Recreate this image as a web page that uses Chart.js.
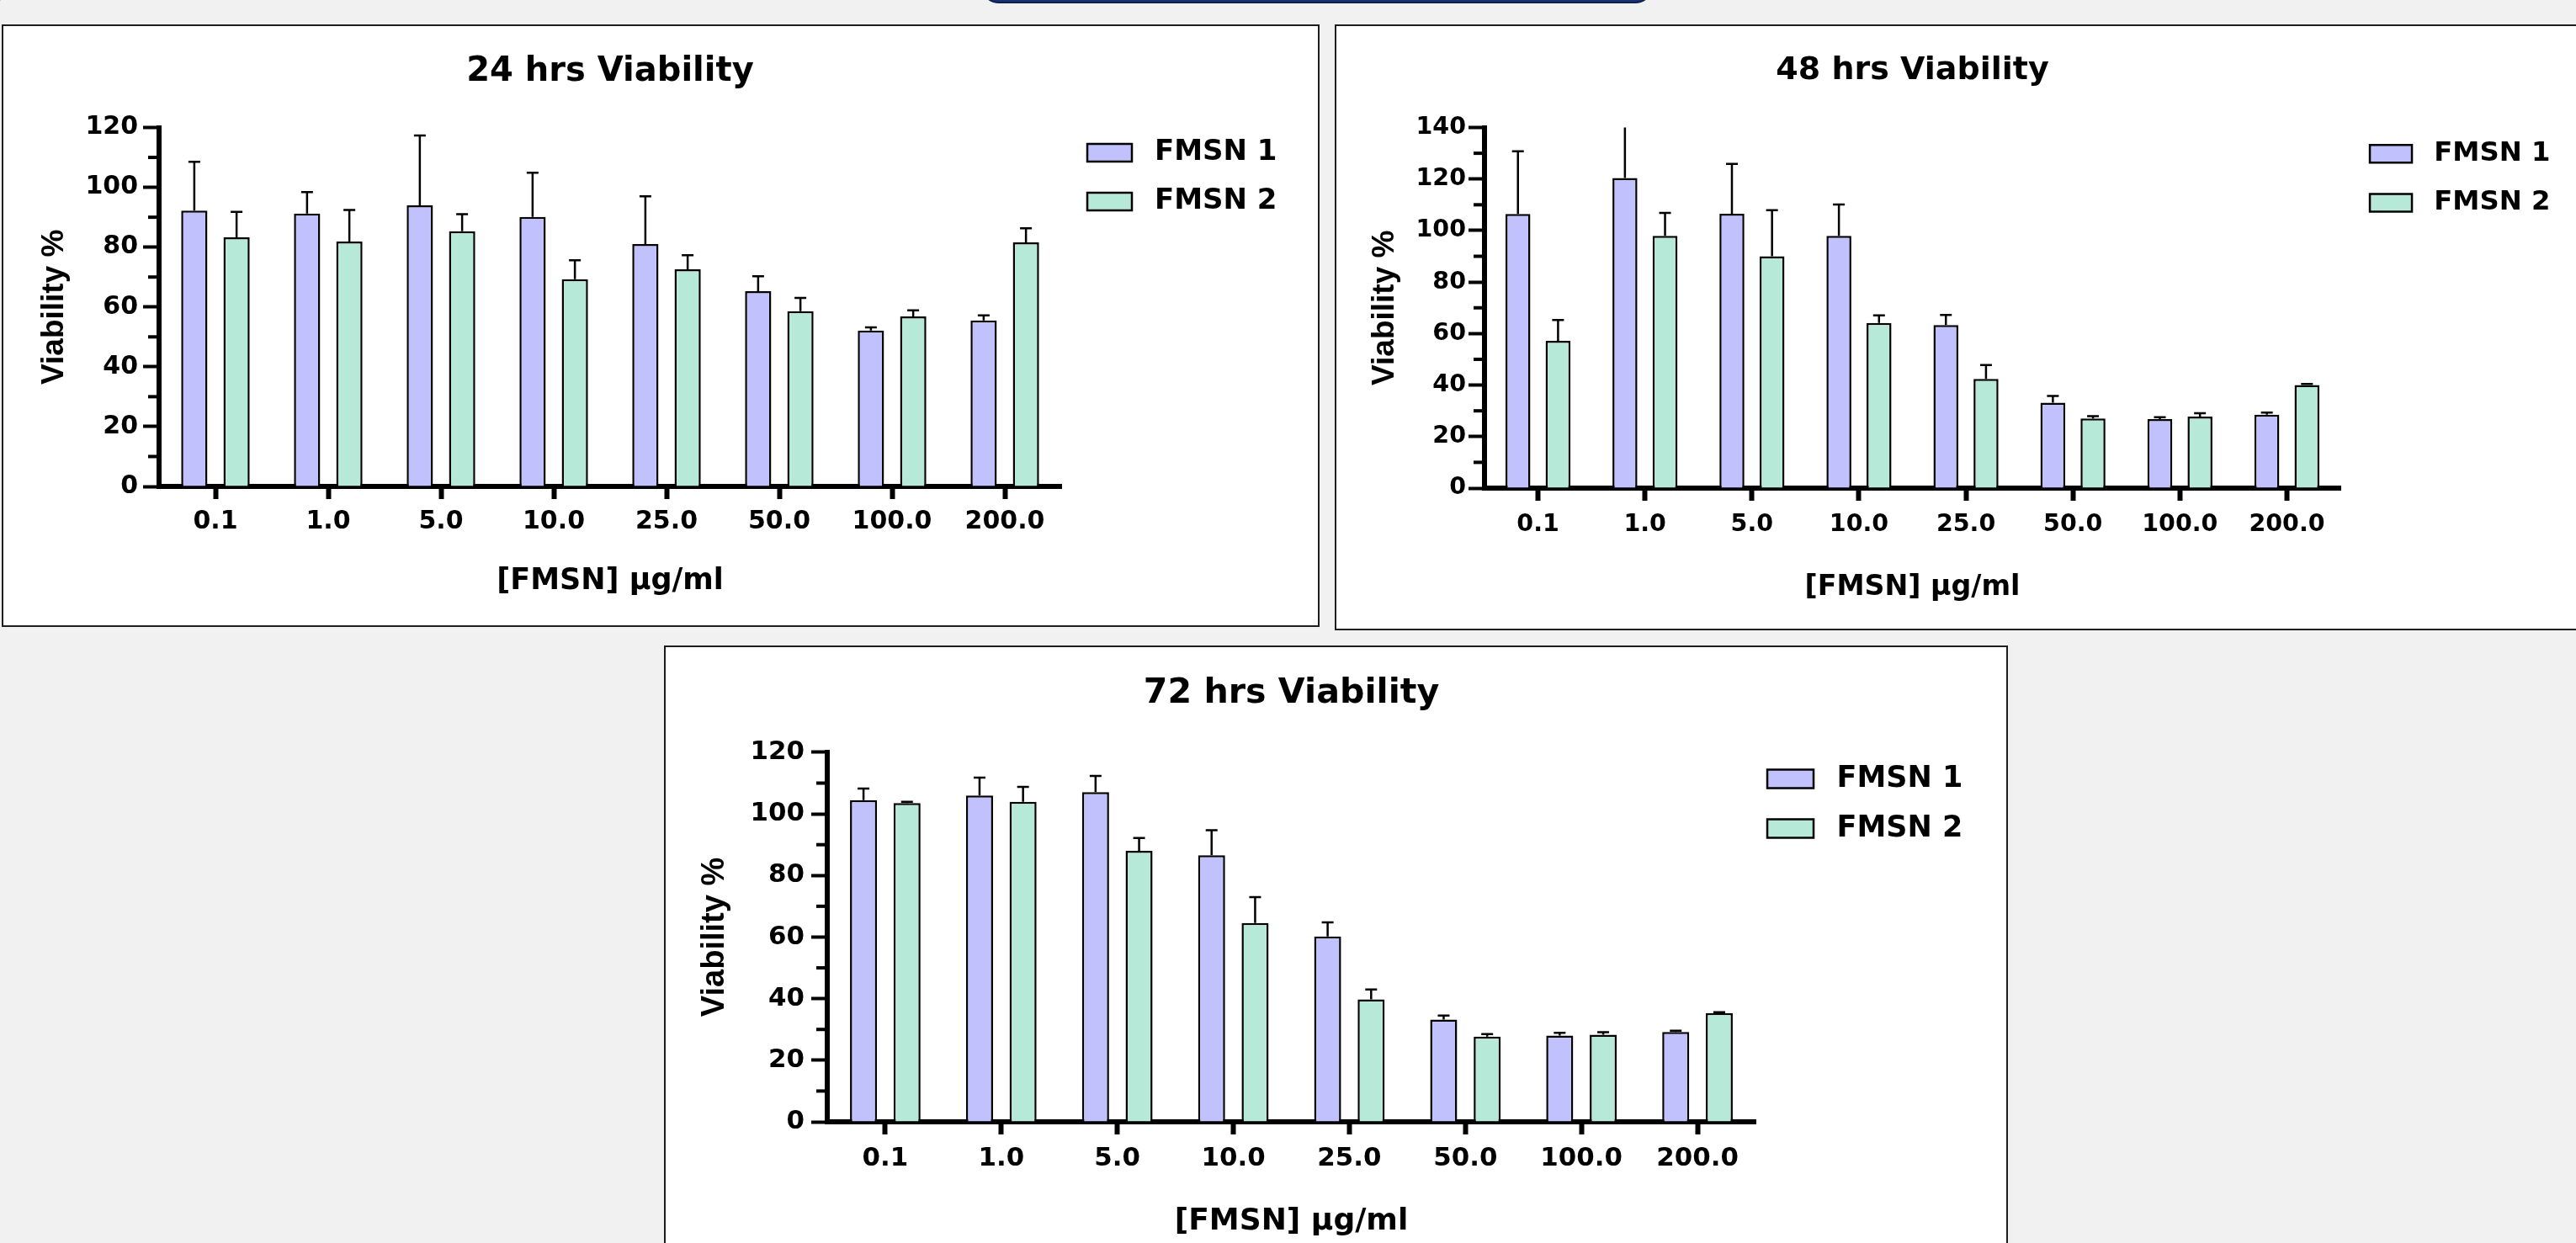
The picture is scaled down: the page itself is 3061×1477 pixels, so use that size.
<!DOCTYPE html>
<html>
<head>
<meta charset="utf-8">
<title>FMSN viability</title>
<script src="https://cdn.jsdelivr.net/npm/chart.js"></script>
<style>
body { margin:0; width:3061px; height:1477px; overflow:hidden; background:#f1f1f1; position:relative; }
.panel { position:absolute; box-sizing:border-box; border:2px solid #1e1e1e; background:#fff; }
.panel canvas { position:absolute; left:0; top:0; }
#tab { position:absolute; left:1165px; top:-40px; width:800px; height:44px; box-sizing:border-box; background:#1b3270; border:2px solid #0f1f4e; border-radius:0 0 22px 22px; }
#corner { position:absolute; left:-38px; top:-38px; width:46px; height:44px; box-sizing:border-box; border:3px solid #2b4a9c; border-radius:50%; }
</style>
</head>
<body>
<div id="tab"></div>
<div id="corner"></div>

<div class="panel" style="left:2px;top:29px;width:1566px;height:716px"><canvas id="c24" width="1562" height="712"></canvas></div>
<div class="panel" style="left:1586px;top:29px;width:1500px;height:720px"><canvas id="c48" width="1496" height="716"></canvas></div>
<div class="panel" style="left:789px;top:767px;width:1597px;height:712px"><canvas id="c72" width="1593" height="708"></canvas></div>

<script>
// concentrations (ug/ml) on the x axis
var doses = ['0.1', '1.0', '5.0', '10.0', '25.0', '50.0', '100.0', '200.0'];
var seriesNames = ['FMSN 1', 'FMSN 2'];

// 24 hrs
var fmsn1_24 = [92.2, 91.2, 94.0, 90.1, 81.0, 65.3, 52.1, 55.5];
var fmsn1_24_sd = [16.3, 7.2, 23.3, 14.8, 16.0, 5.0, 1.1, 1.7];
var fmsn2_24 = [83.3, 81.9, 85.3, 69.3, 72.6, 58.6, 56.8, 81.6];
var fmsn2_24_sd = [8.5, 10.5, 5.7, 6.3, 4.7, 4.4, 2.1, 4.7];

// 48 hrs
var fmsn1_48 = [106.4, 120.4, 106.5, 97.9, 63.3, 33.2, 26.8, 28.5];
var fmsn1_48_sd = [24.4, 22.0, 19.4, 12.2, 3.9, 2.6, 0.7, 0.8];
var fmsn2_48 = [57.2, 97.9, 90.0, 64.1, 42.4, 27.0, 27.8, 40.0];
var fmsn2_48_sd = [8.1, 8.9, 17.9, 3.0, 5.4, 0.9, 1.3, 0.4];

// 72 hrs
var fmsn1_72 = [104.5, 106.0, 107.1, 86.6, 60.2, 33.2, 28.0, 29.2];
var fmsn1_72_sd = [3.7, 5.8, 5.2, 8.1, 4.6, 1.3, 0.9, 0.4];
var fmsn2_72 = [103.5, 103.9, 88.0, 64.6, 39.8, 27.7, 28.3, 35.3];
var fmsn2_72_sd = [0.4, 4.9, 4.2, 8.4, 3.2, 0.8, 0.8, 0.3];

var yMax24 = 120, yMax48 = 140, yMax72 = 120;
var yStep = 20;

Chart.defaults.color = '#000';
Chart.defaults.font.family = "'DejaVu Sans', sans-serif";
Chart.defaults.font.weight = 'bold';

// upper SD bars, clipped at the top of the plot like the original
var errorBars = {
	id: 'errorBars',
	afterDatasetsDraw: function(chart) {
		var ctx = chart.ctx;
		var y = chart.scales.y;
		var area = chart.chartArea;
		ctx.save();
		ctx.beginPath();
		ctx.rect(area.left, area.top, area.right - area.left, area.bottom - area.top);
		ctx.clip();
		ctx.strokeStyle = '#000';
		ctx.lineWidth = 2.5;
		chart.data.datasets.forEach(function(ds, i) {
			chart.getDatasetMeta(i).data.forEach(function(bar, j) {
				var top = y.getPixelForValue(ds.data[j] + ds.sd[j]);
				ctx.beginPath();
				ctx.moveTo(bar.x, bar.y);
				ctx.lineTo(bar.x, top);
				if (top > area.top) {
					ctx.moveTo(bar.x - 7, top);
					ctx.lineTo(bar.x + 7, top);
				}
				ctx.stroke();
			});
		});
		ctx.restore();
	}
};

// short ticks half way between the labelled ones
var minorTicks = {
	id: 'minorTicks',
	afterDraw: function(chart) {
		var ctx = chart.ctx;
		var y = chart.scales.y;
		var x0 = chart.chartArea.left - 3;
		ctx.save();
		ctx.strokeStyle = '#000';
		ctx.lineWidth = 4;
		for (var v = yStep / 2; v < y.max; v += yStep) {
			var py = y.getPixelForValue(v);
			ctx.beginPath();
			ctx.moveTo(x0 - 10, py);
			ctx.lineTo(x0, py);
			ctx.stroke();
		}
		ctx.restore();
	}
};

var legendNudge = {
	id: 'legendNudge',
	afterLayout: function(chart, args, opts) {
		var lg = chart.legend;
		lg.left += opts.dx; lg.right += opts.dx;
		lg.top += opts.dy; lg.bottom += opts.dy;
	}
};

function makeChart(id, title, f1, f1sd, f2, f2sd, yMax, L) {
	var k = L.k;
	return new Chart(document.getElementById(id), {
		type: 'bar',
		data: {
			labels: doses,
			datasets: [
				{ label: seriesNames[0], data: f1, sd: f1sd, backgroundColor: '#c1c1fd', borderColor: '#000', borderWidth: 2.5 },
				{ label: seriesNames[1], data: f2, sd: f2sd, backgroundColor: '#b6e9d7', borderColor: '#000', borderWidth: 2.5 }
			]
		},
		options: {
			responsive: false,
			animation: false,
			devicePixelRatio: 1,
			layout: { padding: { left: 0, top: 0, bottom: 0, right: L.padR } },
			datasets: { bar: { categoryPercentage: 0.75, barPercentage: 0.62 } },
			plugins: {
				title: {
					display: true, text: title, fullSize: false,
					font: { size: 40 * k }, padding: { top: L.titleTop, bottom: L.titleBottom }
				},
				legend: {
					position: 'right', align: 'start', fullSize: false,
					labels: { boxWidth: L.boxW, boxHeight: L.boxH, padding: L.legPad, font: { size: L.legSize }, textAlign: 'right' }
				},
				tooltip: { enabled: false },
				legendNudge: { dx: L.dx, dy: L.dy }
			},
			scales: {
				x: {
					grid: { offset: false, drawOnChartArea: false, tickLength: 15, tickWidth: 6, color: '#000', tickColor: '#000' },
					border: { display: true, width: 6, color: '#000' },
					ticks: { font: { size: 30 * k }, padding: L.xTickPad, maxRotation: 0, autoSkip: false },
					title: { display: true, text: '[FMSN] µg/ml', font: { size: 35 * k }, padding: { top: 0, bottom: L.xTitlePad } },
					afterFit: function(a) { a.height = L.hx; }
				},
				y: {
					min: 0, max: yMax,
					grid: { drawOnChartArea: false, tickLength: 19, tickWidth: 4, color: '#000', tickColor: '#000' },
					border: { display: true, width: 6, color: '#000' },
					ticks: { stepSize: yStep, font: { size: 30 * k }, padding: L.yTickPad },
					title: {
						display: true, text: 'Viability %',
						font: { family: "'Liberation Sans', Arial, sans-serif", size: L.yTitleSize },
						padding: { top: L.yTitlePad, bottom: 0 }
					},
					afterFit: function(a) { a.width = L.wy; }
				}
			}
		},
		plugins: [errorBars, minorTicks, legendNudge]
	});
}

makeChart('c24', '24 hrs Viability', fmsn1_24, fmsn1_24_sd, fmsn2_24, fmsn2_24_sd, yMax24,
	{ k: 1, wy: 185, hx: 165, padR: 55.5, titleTop: 31, titleBottom: 41.5, xTickPad: 9, xTitlePad: 31,
	  yTickPad: 6, yTitleSize: 37, yTitlePad: 38.2, boxW: 53, boxH: 21, legPad: 24, legSize: 34, dx: 7, dy: -11 });

makeChart('c48', '48 hrs Viability', fmsn1_48, fmsn1_48_sd, fmsn2_48, fmsn2_48_sd, yMax48,
	{ k: 0.95, wy: 176, hx: 167, padR: 62.6, titleTop: 30.7, titleBottom: 44.2, xTickPad: 11.4, xTitlePad: 29,
	  yTickPad: 3, yTitleSize: 37, yTitlePad: 35.3, boxW: 50, boxH: 21, legPad: 26, legSize: 32.3, dx: 9, dy: -11 });

makeChart('c72', '72 hrs Viability', fmsn1_72, fmsn1_72_sd, fmsn2_72, fmsn2_72_sd, yMax72,
	{ k: 1.03, wy: 192, hx: 144, padR: 41.7, titleTop: 31, titleBottom: 44.5, xTickPad: 10, xTitlePad: 3.4,
	  yTickPad: 8, yTitleSize: 38, yTitlePad: 36.2, boxW: 55, boxH: 22, legPad: 24, legSize: 35, dx: -10, dy: -10 });
</script>
</body>
</html>
